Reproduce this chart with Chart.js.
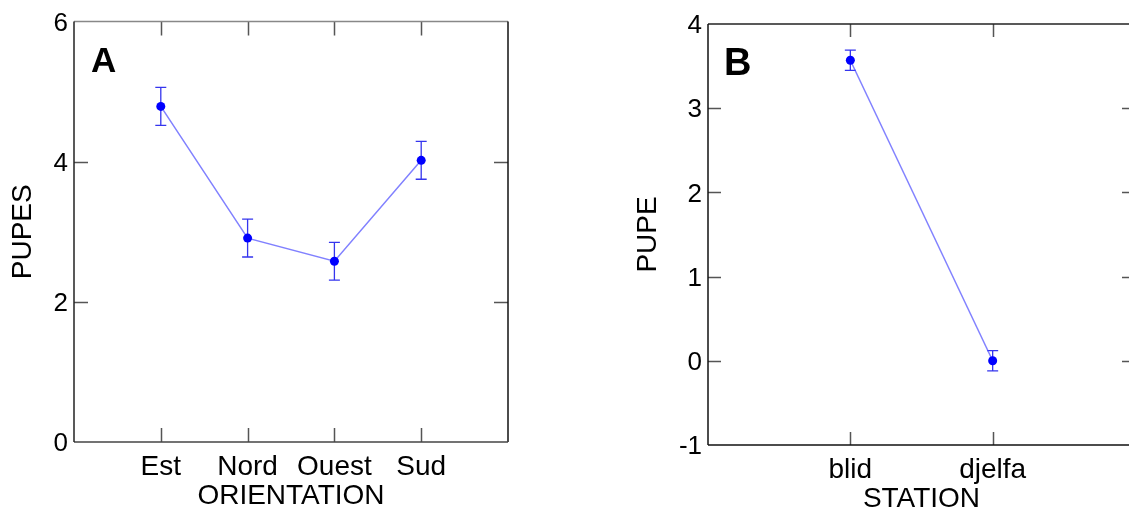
<!DOCTYPE html>
<html>
<head>
<meta charset="utf-8">
<title>Pupes</title>
<script src="https://cdn.jsdelivr.net/npm/chart.js@4/dist/chart.umd.min.js"></script>
<style>
  html, body { margin: 0; padding: 0; background: #fff; overflow: hidden; width: 1129px; height: 513px; }
  canvas { position: absolute; top: 0; }
  #chartA { left: 0; }
  #chartB { left: 580px; }
  .tag { position: absolute; font-family: "Liberation Sans", Arial, sans-serif; font-weight: bold; line-height: 1; color: #000; }
</style>
</head>
<body>
<canvas id="chartA" width="560" height="513"></canvas>
<canvas id="chartB" width="600" height="513"></canvas>
<div class="tag" style="left:91px; top:42px; font-size:35px;">A</div>
<div class="tag" style="left:724px; top:43px; font-size:38px;">B</div>
<script>
// Panel A : moyenne des pupes par orientation
const orientations = ['Est', 'Nord', 'Ouest', 'Sud'];
const pupesMoy = [4.79, 2.91, 2.58, 4.02];
const pupesErr = [0.27, 0.27, 0.27, 0.27];
const yTicksA = { min: 0, max: 6, step: 2 };

// Panel B : moyenne des pupes par station
const stations = ['blid', 'djelfa'];
const pupeMoy = [3.57, 0.0];
const pupeErr = [0.12, 0.12];
const yTicksB = { min: -1, max: 4, step: 1 };

const FONT = '"Liberation Sans", Arial, sans-serif';

// barres d'erreur, cadre et petites graduations vers l'intérieur
const cadre = {
  id: 'cadre',
  beforeDatasetsDraw(chart, args, opts) {
    const ctx = chart.ctx;
    const y = chart.scales.y;
    chart.data.datasets.forEach((ds, di) => {
      const meta = chart.getDatasetMeta(di);
      ctx.save();
      ctx.strokeStyle = '#3535ee';
      ctx.lineWidth = 1.3;
      ctx.beginPath();
      ds.data.forEach((v, i) => {
        if (v === null) return;
        const e = opts.errors[i];
        const px = meta.data[i].x;
        const top = y.getPixelForValue(v + e);
        const bot = y.getPixelForValue(v - e);
        ctx.moveTo(px, top); ctx.lineTo(px, bot);
        ctx.moveTo(px - 5.5, top); ctx.lineTo(px + 5.5, top);
        ctx.moveTo(px - 5.5, bot); ctx.lineTo(px + 5.5, bot);
      });
      ctx.stroke();
      ctx.restore();
    });
  },
  afterDraw(chart, args, opts) {
    const { ctx, chartArea: a, scales } = chart;
    const t = opts.tick;
    ctx.save();
    ctx.strokeStyle = '#555';
    ctx.lineWidth = 1.5;
    ctx.beginPath();
    scales.y.ticks.forEach(tk => {
      if (tk.value <= scales.y.min || tk.value >= scales.y.max) return;
      const py = Math.round(scales.y.getPixelForValue(tk.value)) + 0.5;
      ctx.moveTo(a.left, py); ctx.lineTo(a.left + t, py);
      ctx.moveTo(a.right, py); ctx.lineTo(a.right - t, py);
    });
    chart.data.labels.forEach((lab, i) => {
      if (!lab) return;
      const px = Math.round(scales.x.getPixelForTick(i)) + 0.5;
      ctx.moveTo(px, a.bottom); ctx.lineTo(px, a.bottom - t);
      ctx.moveTo(px, a.top); ctx.lineTo(px, a.top + t);
    });
    ctx.stroke();

    const c = opts.colors;
    const side = (col, x1, y1, x2, y2) => {
      ctx.strokeStyle = col;
      ctx.beginPath(); ctx.moveTo(x1, y1); ctx.lineTo(x2, y2); ctx.stroke();
    };
    ctx.lineWidth = 1.5;
    side(c.top, a.left, a.top, a.right, a.top);
    side(c.right, a.right, a.top, a.right, a.bottom);
    side(c.bottom, a.left, a.bottom, a.right, a.bottom);
    side(c.left, a.left, a.top, a.left, a.bottom);
    ctx.restore();
  }
};

function panel(id, labels, moy, err, yr, yTitle, xTitle, geo) {
  return new Chart(document.getElementById(id), {
    type: 'line',
    data: {
      labels: ['', ...labels, ''],
      datasets: [{
        data: [null, ...moy, null],
        borderColor: 'rgba(80, 80, 255, 0.72)',
        borderWidth: 1.5,
        pointRadius: 4.5,
        pointBorderWidth: 0,
        pointBackgroundColor: '#0000ff',
        tension: 0
      }]
    },
    options: {
      responsive: false,
      animation: false,
      layout: { padding: { left: 0, top: geo.top, right: geo.right, bottom: 0 } },
      plugins: {
        legend: { display: false },
        tooltip: { enabled: false },
        cadre: { errors: [null, ...err, null], tick: geo.tick, colors: geo.colors }
      },
      scales: {
        x: {
          type: 'category',
          offset: false,
          grid: { display: false, drawTicks: false },
          border: { display: false },
          ticks: { color: '#000', font: { family: FONT, size: 28 }, padding: 8, autoSkip: false, maxRotation: 0 },
          title: { display: true, text: xTitle, color: '#000', font: { family: FONT, size: 28 }, padding: { top: 0, bottom: geo.xTitlePad } },
          afterFit: s => { s.height = geo.xh; }
        },
        y: {
          min: yr.min,
          max: yr.max,
          grid: { display: false, drawTicks: false },
          border: { display: false },
          ticks: { stepSize: yr.step, color: '#000', font: { family: FONT, size: 26 }, padding: 6, labelOffset: 2 },
          title: { display: true, text: yTitle, color: '#000', font: { family: FONT, size: 28 }, padding: { top: geo.yTitlePad, bottom: 0 } },
          afterFit: s => { s.width = geo.yw; }
        }
      }
    },
    plugins: [cadre]
  });
}

panel('chartA', orientations, pupesMoy, pupesErr, yTicksA, 'PUPES', 'ORIENTATION', {
  top: 20, right: 52, xh: 71, yw: 74, tick: 14, xTitlePad: 0, yTitlePad: 6,
  colors: { top: '#888', right: '#111', bottom: '#444', left: '#222' }
});

panel('chartB', stations, pupeMoy, pupeErr, yTicksB, 'PUPE', 'STATION', {
  top: 24, right: 45, xh: 68, yw: 128, tick: 13, xTitlePad: -3, yTitlePad: 51,
  colors: { top: '#222', right: '#222', bottom: '#111', left: '#111' }
});
</script>
</body>
</html>
